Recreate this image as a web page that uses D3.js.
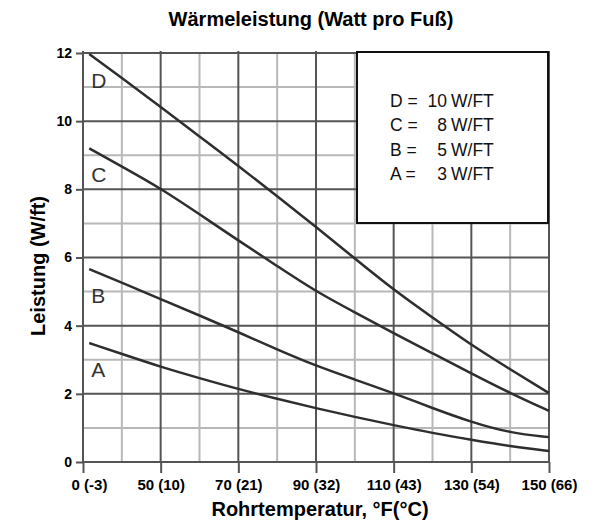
<!DOCTYPE html>
<html>
<head>
<meta charset="utf-8">
<script src="https://cdn.jsdelivr.net/npm/d3@7"></script>
<style>
  body { margin: 0; background: #fff; }
  text { font-family: "Liberation Sans", Arial, sans-serif; }
</style>
</head>
<body>
<div id="chart"></div>
<script>
// x positions in °F (axis is not evenly spaced in real degrees)
var xTicks = [0, 50, 70, 90, 110, 130, 150];
var xTickLabels = ["0 (-3)", "50 (10)", "70 (21)", "90 (32)", "110 (43)", "130 (54)", "150 (66)"];
var yTicks = [0, 2, 4, 6, 8, 10, 12];

var temps = [4, 25, 50, 60, 70, 80, 90, 100, 110, 120, 130, 140, 150];
var curveD = [11.97, 11.27, 10.42, 9.55, 8.69, 7.8, 6.9, 5.97, 5.05, 4.24, 3.43, 2.72, 2.02];
var curveC = [9.2, 8.67, 8.03, 7.27, 6.5, 5.75, 5.0, 4.39, 3.78, 3.19, 2.6, 2.02, 1.5];
var curveB = [5.66, 5.26, 4.78, 4.3, 3.81, 3.3, 2.82, 2.42, 2.02, 1.58, 1.17, 0.85, 0.73];
var curveA = [3.49, 3.17, 2.79, 2.46, 2.14, 1.85, 1.58, 1.32, 1.08, 0.85, 0.65, 0.46, 0.32];

var seriesNames = ["D", "C", "B", "A"];
var legendValues = [10, 8, 5, 3];

var margin = {left: 83, top: 53, width: 466, height: 409};

var svg = d3.select("#chart").append("svg")
    .attr("width", 608)
    .attr("height", 527);

// piecewise scale: each tick gets the same width
var x = d3.scaleLinear()
    .domain(xTicks)
    .range(xTicks.map(function(d, i) { return margin.left + i * margin.width / (xTicks.length - 1); }));

var y = d3.scaleLinear()
    .domain([0, 12])
    .range([margin.top + margin.height, margin.top]);

var minorX = d3.pairs(xTicks).map(function(p) { return (x(p[0]) + x(p[1])) / 2; });
var minorY = d3.range(1, 12, 2);

var grid = svg.append("g");

// minor grid
grid.selectAll(".vminor").data(minorX).enter().append("line")
    .attr("x1", d => d).attr("x2", d => d)
    .attr("y1", y(12)).attr("y2", y(0))
    .attr("stroke", "#b8b8b8").attr("stroke-width", 2);
grid.selectAll(".hminor").data(minorY).enter().append("line")
    .attr("x1", x(0)).attr("x2", x(150))
    .attr("y1", d => y(d)).attr("y2", d => y(d))
    .attr("stroke", "#b8b8b8").attr("stroke-width", 2);

// major grid
grid.selectAll(".vmajor").data(xTicks).enter().append("line")
    .attr("x1", d => x(d)).attr("x2", d => x(d))
    .attr("y1", y(12) - 2).attr("y2", y(0))
    .attr("stroke", "#555").attr("stroke-width", 2);
grid.selectAll(".hmajor").data(yTicks).enter().append("line")
    .attr("x1", x(0)).attr("x2", x(150))
    .attr("y1", d => y(d)).attr("y2", d => y(d))
    .attr("stroke", "#555").attr("stroke-width", 2);

// axes
var xAxis = svg.append("g")
    .attr("transform", "translate(0," + y(0) + ")")
    .call(d3.axisBottom(x).tickValues(xTicks)
        .tickFormat((d, i) => xTickLabels[i]).tickSize(11).tickPadding(6));
xAxis.select(".domain").remove();
xAxis.selectAll(".tick line").attr("stroke", "#555").attr("stroke-width", 2);
xAxis.selectAll(".tick text")
    .attr("fill", "#000")
    .attr("dx", (d, i) => i === 0 ? 6 : 0)
    .style("font-size", "15px").style("font-weight", "bold")
    .style("font-family", "'Liberation Sans', Arial, sans-serif");

var yAxis = svg.append("g")
    .attr("transform", "translate(" + x(0) + ",0)")
    .call(d3.axisLeft(y).tickValues(yTicks).tickSize(7).tickPadding(4));
yAxis.select(".domain").remove();
yAxis.selectAll(".tick line").attr("stroke", "#555").attr("stroke-width", 2);
yAxis.selectAll(".tick text")
    .attr("fill", "#000")
    .style("font-size", "14px").style("font-weight", "bold")
    .style("font-family", "'Liberation Sans', Arial, sans-serif");

// curves
var line = d3.line()
    .x((d, i) => x(temps[i]))
    .y(d => y(d))
    .curve(d3.curveBasis);

var curves = [curveD, curveC, curveB, curveA];
svg.selectAll(".curve").data(curves).enter().append("path")
    .attr("class", "curve")
    .attr("d", line)
    .attr("fill", "none")
    .attr("stroke", "#2e2e2e")
    .attr("stroke-width", 2.5);

svg.selectAll(".clabel").data(curves).enter().append("text")
    .attr("x", x(temps[0]) + 2)
    .attr("y", d => y(d[0]) + 34)
    .attr("fill", "#333")
    .style("font-size", "21px")
    .text((d, i) => seriesNames[i]);

// legend box
var legend = svg.append("g");
legend.append("rect")
    .attr("x", 357).attr("y", 52)
    .attr("width", 191).attr("height", 171)
    .attr("fill", "#fff").attr("stroke", "#111").attr("stroke-width", 2);

var rows = legend.selectAll(".row").data(seriesNames).enter().append("g")
    .attr("transform", (d, i) => "translate(0," + (107 + i * 24.4) + ")")
    .style("font-size", "17.5px").attr("fill", "#111");
rows.append("text").attr("x", 390).text(d => d + " =");
rows.append("text").attr("x", 447).attr("text-anchor", "end").text((d, i) => legendValues[i]);
rows.append("text").attr("x", 451).text("W/FT");

// titles
svg.append("text")
    .attr("x", 311).attr("y", 26)
    .attr("text-anchor", "middle")
    .style("font-size", "20px").style("font-weight", "bold")
    .text("Wärmeleistung (Watt pro Fuß)");

svg.append("text")
    .attr("x", 320).attr("y", 516)
    .attr("text-anchor", "middle")
    .style("font-size", "20px").style("font-weight", "bold")
    .text("Rohrtemperatur, °F(°C)");

svg.append("text")
    .attr("transform", "translate(45,266) rotate(-90)")
    .attr("text-anchor", "middle")
    .style("font-size", "20px").style("font-weight", "bold")
    .text("Leistung (W/ft)");
</script>
</body>
</html>
